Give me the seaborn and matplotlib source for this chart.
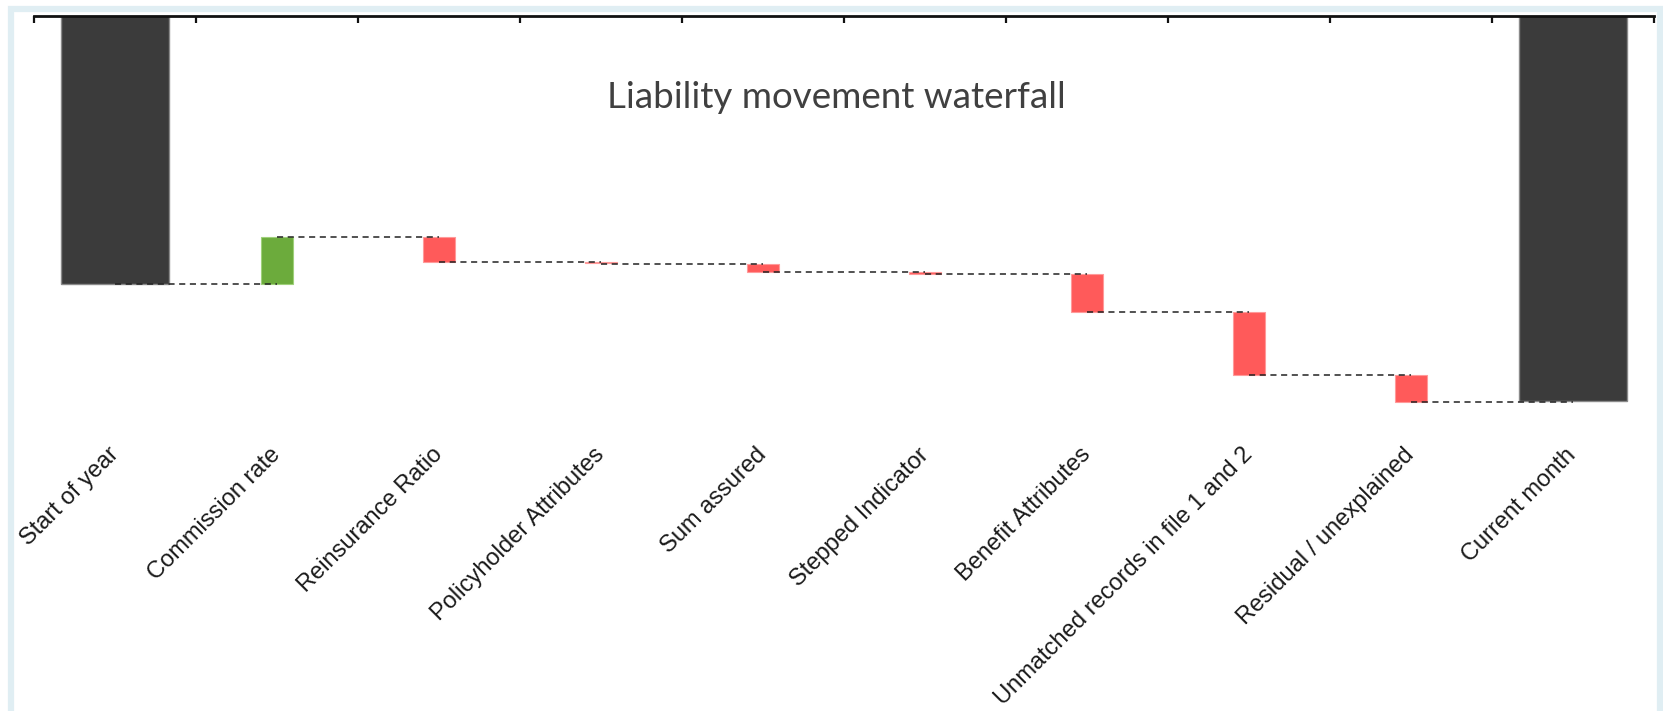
import numpy as np
import pandas as pd
import matplotlib
matplotlib.use("Agg")
import matplotlib.pyplot as plt
from matplotlib.patches import Rectangle
import seaborn as sns

# Waterfall data (axis is inverted: up = lower liability)
steps = ["Start of year", "Commission rate", "Reinsurance Ratio", "Policyholder Attributes",
         "Sum assured", "Stepped Indicator", "Benefit Attributes",
         "Unmatched records in file 1 and 2", "Residual / unexplained", "Current month"]
start_value = 100.0
movements = [-4.7, 2.5, 0.15, 0.8, 0.2, 3.8, 6.3, 2.7]
end_value = 111.65

sns.set_style("white")
plt.rcParams['font.family'] = ['Liberation Sans', 'DejaVu Sans']

# Build the table seaborn draws from
levels = np.concatenate([[start_value], start_value + np.cumsum(movements)])
df = pd.DataFrame({
    "step": steps,
    "height": [start_value] + movements + [end_value],
    "bottom": [0.0] + list(levels[:-1]) + [0.0],
    "kind": ["total"] + ["down" if m < 0 else "up" for m in movements] + ["total"],
})

fig = plt.figure(figsize=(16.63, 7.11), dpi=100)
ax = fig.add_axes([34 / 1663, 1 - 439 / 711, 1620 / 1663, 423 / 711])

totals = df[df["kind"] == "total"]
sns.barplot(data=totals, x="step", y="height", order=steps, width=0.67, color="#3b3b3b",
            bottom=totals["bottom"].to_numpy(), edgecolor="#8a8a8a", linewidth=1,
            errorbar=None, saturation=1, ax=ax)
greens = df[df["kind"] == "down"]
sns.barplot(data=greens, x="step", y="height", order=steps, width=0.2, color="#6cab3c",
            bottom=greens["bottom"].to_numpy(), edgecolor="#9fd07a", linewidth=0.8,
            errorbar=None, saturation=1, ax=ax)
reds = df[df["kind"] == "up"]
sns.barplot(data=reds, x="step", y="height", order=steps, width=0.2, color="#ff5a5a",
            bottom=reds["bottom"].to_numpy(), edgecolor="#ff9a9a", linewidth=0.8,
            errorbar=None, saturation=1, ax=ax)

# dashed connectors from centre of one bar to the next
xs = np.arange(len(steps))
ax.hlines(list(levels), xs[:-1], xs[1:], colors="#222222", linestyles=(0, (4, 3)),
          linewidth=1.1, zorder=5)

ax.set_xlim(-0.5, len(steps) - 0.5)
ax.set_ylim(115.5, 73.2)
ax.set_xlabel("")
ax.set_ylabel("")
ax.set_yticks([])

for side in ["left", "right", "bottom"]:
    ax.spines[side].set_visible(False)
ax.spines["top"].set_linewidth(2)
ax.spines["top"].set_color("#111111")

ax.tick_params(axis="x", which="major", length=0, pad=9, labelsize=17, labelcolor="#1a1a1a")
plt.setp(ax.get_xticklabels(), rotation=45, ha="right", va="center", rotation_mode="anchor")
ax.set_xticks(np.arange(-0.5, len(steps)), minor=True)
ax.tick_params(axis="x", which="minor", top=True, bottom=False, direction="in",
               length=5, width=1.6, color="#111111")

fig.text(836 / 1663, 1 - 98 / 711, "Liability movement waterfall", ha="center", va="center",
         fontsize=26.5, color="#404040", family=["Lato", "DejaVu Sans"])

# light blue frame around the chart
fig.patches.append(Rectangle((11 / 1663, -0.05), 1649 / 1663, 1 - 9 / 711 + 0.05,
                             transform=fig.transFigure, fill=False,
                             edgecolor="#e0eef3", linewidth=4.5, zorder=0))

fig.savefig("out.png", dpi=100)
